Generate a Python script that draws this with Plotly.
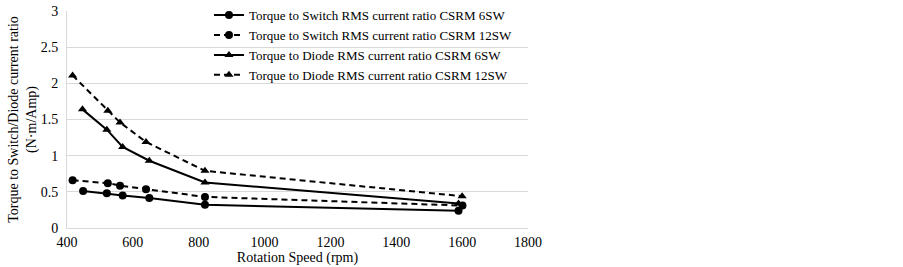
import plotly.graph_objects as go

sw6_x = [449, 521, 569, 650, 819, 1589]
sw6_y = [0.51, 0.48, 0.45, 0.415, 0.32, 0.24]
sw12_x = [417, 524, 561, 640, 819, 1601]
sw12_y = [0.66, 0.62, 0.585, 0.535, 0.43, 0.31]
d6_x = [447, 521, 569, 650, 819, 1589]
d6_y = [1.64, 1.36, 1.12, 0.93, 0.63, 0.34]
d12_x = [417, 524, 561, 640, 819, 1600]
d12_y = [2.11, 1.62, 1.46, 1.19, 0.79, 0.44]

names = ["Torque to Switch RMS current ratio CSRM 6SW",
         "Torque to Switch RMS current ratio CSRM 12SW",
         "Torque to Diode RMS current ratio CSRM 6SW",
         "Torque to Diode RMS current ratio CSRM 12SW"]

FONT = "Liberation Serif"

fig = go.Figure()
series = [(sw6_x, sw6_y, "solid", "circle"),
          (sw12_x, sw12_y, "6px,4px", "circle"),
          (d6_x, d6_y, "solid", "triangle-up"),
          (d12_x, d12_y, "6px,4px", "triangle-up")]
for (x, y, dash, sym), nm in zip(series, names):
    fig.add_trace(go.Scatter(x=x, y=y, name=nm, mode="lines+markers",
                             line=dict(color="black", width=2, dash=dash),
                             marker=dict(symbol=sym, size=8, color="black")))

fig.update_layout(
    width=903, height=267,
    margin=dict(l=67, r=375, t=11, b=39, autoexpand=False),
    paper_bgcolor="white", plot_bgcolor="white",
    font=dict(family=FONT, size=13, color="black"),
    showlegend=True,
    legend=dict(x=0.308, y=1.05, xanchor="left", yanchor="top",
                bgcolor="rgba(255,255,255,0)", font=dict(family=FONT, size=13),
                tracegroupgap=0, itemwidth=30),
    xaxis=dict(range=[400, 1800], dtick=200, tick0=400, automargin=False,
               showgrid=False, zeroline=False,
               showline=True, linecolor="#d9d9d9", linewidth=1,
               ticks="", ticklabelstandoff=1,
               title=dict(text="Rotation Speed (rpm)", standoff=0,
                          font=dict(family=FONT, size=14)),
               tickfont=dict(family=FONT, size=14)),
    yaxis=dict(range=[0, 3], dtick=0.5, showgrid=True, gridcolor="#d9d9d9",
               zeroline=False, showline=True, linecolor="#d9d9d9", automargin=False,
               ticks="", ticklabelstandoff=5, tickfont=dict(family=FONT, size=14),
               title=dict(text="Torque to Switch/Diode current ratio<br>(N·m/Amp)",
                          standoff=0, font=dict(family=FONT, size=14))),
)

fig.write_html("out.html", config={"displayModeBar": False},
               post_script="document.body.style.margin='0';")
